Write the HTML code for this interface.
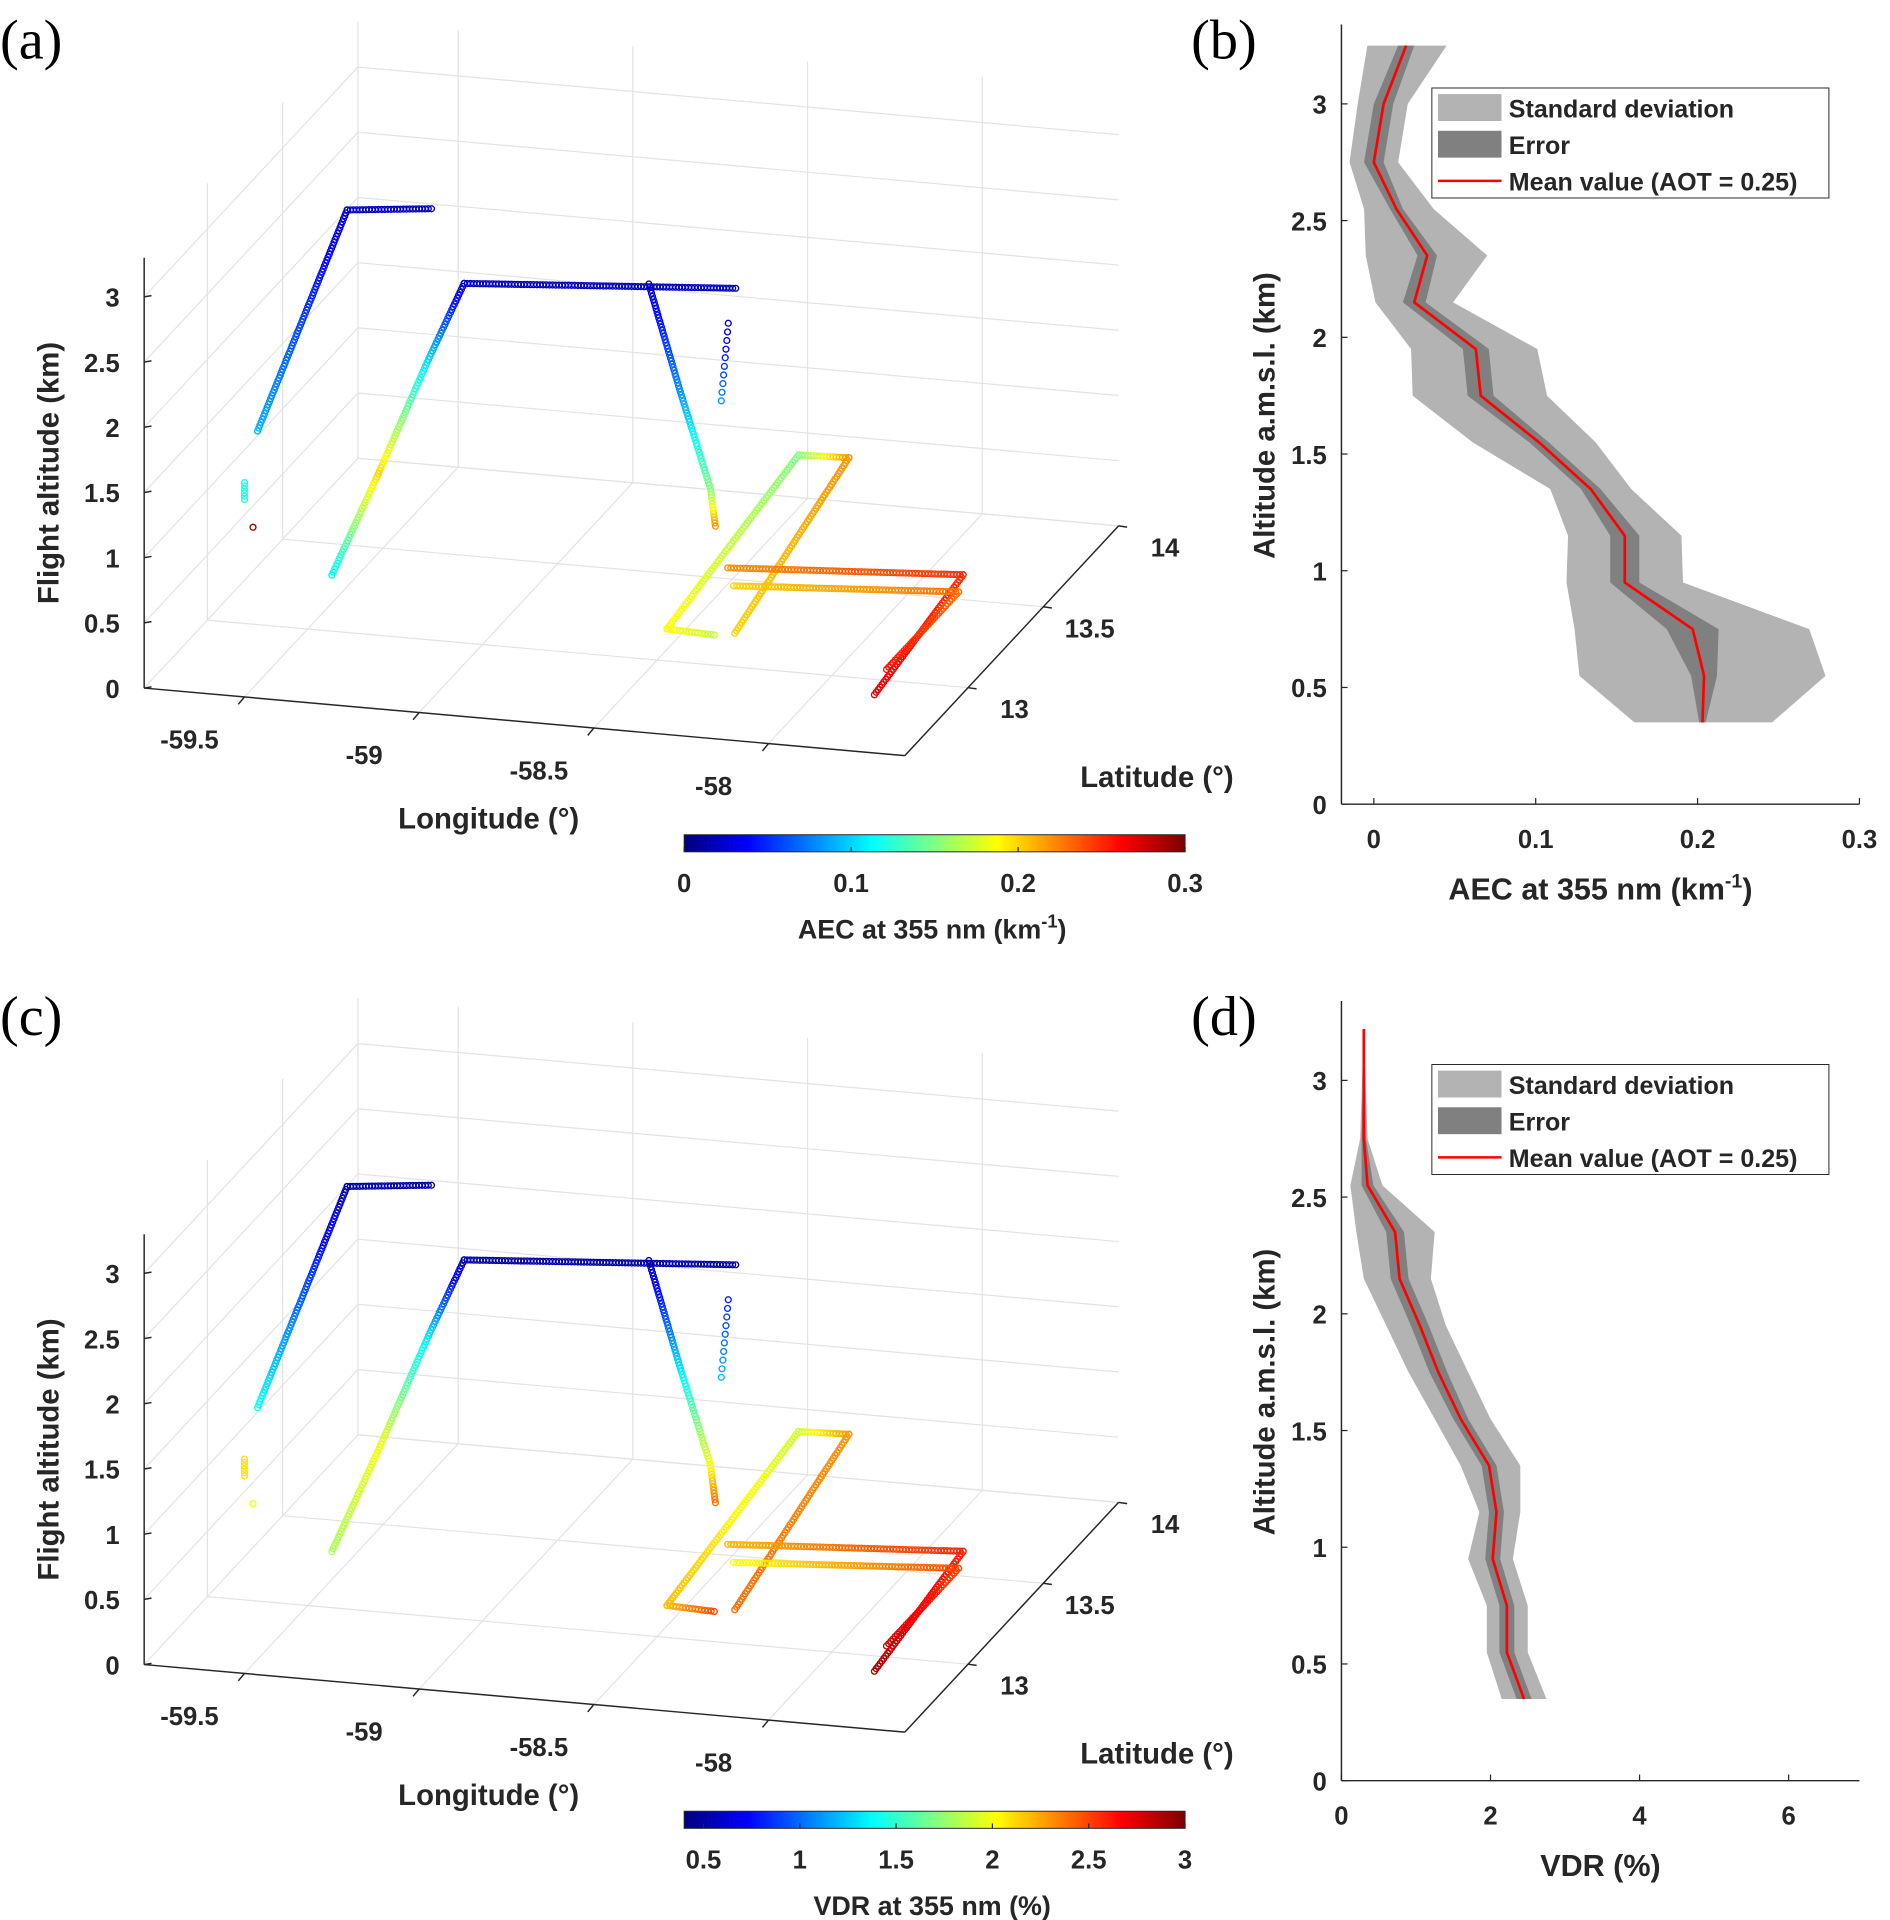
<!DOCTYPE html>
<html><head><meta charset="utf-8">
<style>
html,body{margin:0;padding:0;background:#fff;}
svg{display:block;}
text{font-family:"Liberation Sans",sans-serif;font-weight:bold;fill:#262626;}
.pl{font-family:"Liberation Serif",serif;font-weight:normal;fill:#000;font-size:46px;}
</style></head>
<body>
<svg id="fig" width="1890" height="1920" viewBox="0 0 1547 1571" preserveAspectRatio="none" xmlns="http://www.w3.org/2000/svg">
<rect width="1547" height="1571" fill="#fff"/>
<text class="pl" x="0" y="48">(a)</text>
<text class="pl" x="975" y="48">(b)</text>
<text class="pl" x="0" y="847">(c)</text>
<text class="pl" x="975" y="847">(d)</text>
</svg>
<script>
// ---------- data ----------
const altTicks3d=[0,0.5,1,1.5,2,2.5,3];
const lonTicks=[-59.5,-59,-58.5,-58];
const latTicks=[13,13.5,14];
// flight track waypoints [lon, lat, alt]
const track1=[[-59.18,13.08,3.2],[-59.40,13.03,3.2],[-59.51,12.69,1.9]];
const track1b=[[-59.53,12.65,1.55],[-59.53,12.65,1.42]];
const track1c=[[-59.51,12.66,1.2]];
const track2=[[-58.18,12.78,3.2],[-58.91,12.67,3.2],[-59.01,12.665,2.6],[-59.15,12.657,1.7],[-59.28,12.65,0.9]];
const track3=[[-58.42,12.76,3.2],[-58.36,12.83,2.3],[-58.30,12.89,1.5],[-58.29,12.90,1.2]];
const track4=[[-58.21,12.80,2.9],[-58.23,12.80,2.3]];
const track5=[[-58.25,12.80,0.5],[-58.39,12.81,0.5],[-58.47,13.87,0.5],[-58.33,13.88,0.5],[-58.20,12.82,0.5]];
const track6=[[-58.38,13.19,0.5],[-57.74,13.27,0.5],[-57.68,12.54,0.5]];
const track7=[[-58.32,13.09,0.5],[-57.71,13.17,0.5],[-57.71,12.69,0.5]];
const aec1=[0.02,0.02,0.09],aec1b=[0.12,0.12],aec1c=[0.29],aec2=[0.02,0.02,0.1,0.2,0.11],aec3=[0.02,0.08,0.15,0.22],aec4=[0.02,0.08],aec5=[0.17,0.19,0.15,0.22,0.2],aec6=[0.22,0.25,0.27],aec7=[0.2,0.23,0.26];
const vdr1=[0.5,0.5,1.4],vdr1b=[2.1,2.1],vdr1c=[2.0],vdr2=[0.5,0.5,1.3,2.0,1.8],vdr3=[0.5,1.3,2.0,2.4],vdr4=[0.8,1.2],vdr5=[2.5,2.2,1.9,2.3,2.4],vdr6=[2.2,2.6,2.9],vdr7=[2.0,2.5,2.8];
const aecCbTicks=[0,0.1,0.2,0.3];
const vdrCbTicks=[0.5,1,1.5,2,2.5,3];
// profile (b)
const bAlt=[3.25,3.0,2.75,2.55,2.35,2.15,1.95,1.75,1.55,1.35,1.15,0.95,0.75,0.55,0.35];
const bMean=[0.02,0.006,0.0,0.014,0.033,0.025,0.063,0.066,0.102,0.134,0.155,0.155,0.197,0.204,0.203];
const bStdLo=[-0.004,-0.010,-0.015,-0.006,-0.005,0.001,0.023,0.024,0.061,0.109,0.120,0.119,0.124,0.127,0.161];
const bStdHi=[0.045,0.021,0.015,0.037,0.070,0.049,0.101,0.107,0.137,0.159,0.190,0.191,0.269,0.279,0.246];
const bErr=[0.005,0.006,0.006,0.004,0.006,0.007,0.008,0.008,0.006,0.006,0.009,0.009,0.016,0.008,0.002];
const bXTicks=[0,0.1,0.2,0.3];
const yTicks2d=[0,0.5,1,1.5,2,2.5,3];
// profile (d)
const dAlt=[3.22,2.75,2.55,2.35,2.15,1.95,1.75,1.55,1.35,1.15,0.95,0.75,0.55,0.35];
const dMean=[0.3,0.3,0.35,0.72,0.78,1.05,1.3,1.6,1.98,2.08,2.03,2.22,2.22,2.45];
const dStdLo=[0.3,0.25,0.12,0.2,0.3,0.6,0.9,1.25,1.6,1.85,1.7,1.95,1.95,2.15];
const dStdHi=[0.3,0.35,0.55,1.25,1.2,1.4,1.7,2.0,2.4,2.4,2.3,2.5,2.5,2.75];
const dErr=[0,0.03,0.08,0.12,0.12,0.12,0.12,0.1,0.1,0.1,0.1,0.1,0.1,0.1];
const dXTicks=[0,2,4,6];

// ---------- helpers ----------
const NS='http://www.w3.org/2000/svg';
const svg=document.getElementById('fig');
function mk(tag,attrs,parent){const e=document.createElementNS(NS,tag);for(const k in attrs)e.setAttribute(k,attrs[k]);(parent||svg).appendChild(e);return e;}
function txt(x,y,s,size,anchor,parent){const t=mk('text',{x:x,y:y,'font-size':size,'text-anchor':anchor||'middle'},parent);t.textContent=s;return t;}
function jet(t){t=Math.max(0,Math.min(1,t));const c=v=>Math.round(255*Math.max(0,Math.min(1,v)));return 'rgb('+c(1.5-Math.abs(4*t-3))+','+c(1.5-Math.abs(4*t-2))+','+c(1.5-Math.abs(4*t-1))+')';}

const LONMIN=-59.787,LONMAX=-57.61,LATMIN=12.58,LATMAX=14.0,ALTMAX=3.35;
function proj(lon,lat,alt,oy){return [118+(lon-LONMIN)*286+(lat-LATMIN)*123.2, 563+oy+(lon-LONMIN)*25.4-(lat-LATMIN)*132.4-alt*106.7];}

function panel3d(oy,prefix,tracks,vals,vmin,vmax,cbTicks,cbTitle,isAec){
  const g=mk('g',{});
  
  
  const grid='#e3e3e3';
  const L=(p,q,col,w,name)=>{const l=mk('line',{x1:p[0],y1:p[1],x2:q[0],y2:q[1],stroke:col,'stroke-width':w},g);return l;};
  // back wall (lat max)
  lonTicks.forEach(lo=>L(proj(lo,LATMAX,0,oy),proj(lo,LATMAX,ALTMAX,oy),grid,1,'gridline-back'));
  altTicks3d.forEach(a=>L(proj(LONMIN,LATMAX,a,oy),proj(LONMAX,LATMAX,a,oy),grid,1,'gridline-back'));
  // left wall (lon min)
  latTicks.forEach(la=>L(proj(LONMIN,la,0,oy),proj(LONMIN,la,ALTMAX,oy),grid,1,'gridline-left'));
  altTicks3d.forEach(a=>L(proj(LONMIN,LATMIN,a,oy),proj(LONMIN,LATMAX,a,oy),grid,1,'gridline-left'));
  // floor
  lonTicks.forEach(lo=>L(proj(lo,LATMIN,0,oy),proj(lo,LATMAX,0,oy),grid,1,'gridline-floor'));
  latTicks.forEach(la=>L(proj(LONMIN,la,0,oy),proj(LONMAX,la,0,oy),grid,1,'gridline-floor'));
  // axes
  L(proj(LONMIN,LATMIN,0,oy),proj(LONMIN,LATMIN,3.3,oy),'#262626',1.2,'z-axis');
  L(proj(LONMIN,LATMIN,0,oy),proj(LONMAX,LATMIN,0,oy),'#262626',1.2,'longitude-axis');
  L(proj(LONMAX,LATMIN,0,oy),proj(LONMAX,LATMAX,0,oy),'#262626',1.2,'latitude-axis');
  altTicks3d.forEach(a=>{const p=proj(LONMIN,LATMIN,a,oy);L(p,[p[0]+6,p[1]-1],'#262626',1.2,'z-tick');const t=txt(p[0]-20,p[1]+8,String(a),21,'end',g);});
  lonTicks.forEach(lo=>{const p=proj(lo,LATMIN,0,oy);L(p,[p[0]-5,p[1]+6],'#262626',1.2,'lon-tick');const t=txt(p[0]-45,p[1]+42,String(lo),21,'middle',g);});
  latTicks.forEach(la=>{const p=proj(LONMAX,la,0,oy);L(p,[p[0]+7,p[1]+1],'#262626',1.2,'lat-tick');const t=txt(p[0]+38,p[1]+25,String(la),21,'middle',g);});
  let t=txt(0,0,'Flight altitude (km)',24,'middle',g);t.setAttribute('transform','translate(48,'+(387+oy)+') rotate(-90)');
  
  t=txt(400,678+oy,'Longitude (°)',24,'middle',g);
  
  t=txt(947,644+oy,'Latitude (°)',24,'middle',g);
  
  // tracks
  const tg=mk('g',{},g);
  
  
  tracks.forEach((tr,ti)=>{
    const vs=vals[ti];
    const pts=tr.map(p=>proj(p[0],p[1],p[2],oy));
    const drawM=(x,y,v)=>{const c=mk('circle',{cx:x.toFixed(1),cy:y.toFixed(1),r:2.4,fill:'none',stroke:jet((v-vmin)/(vmax-vmin)),'stroke-width':1.1},tg);};
    if(pts.length===1){drawM(pts[0][0],pts[0][1],vs[0]);return;}
    const sparse=(ti===5);
    for(let i=0;i<pts.length-1;i++){
      const a=pts[i],b=pts[i+1];const len=Math.hypot(b[0]-a[0],b[1]-a[1]);
      const n=Math.max(1,Math.round(len/(sparse?7:2.6)));
      for(let k=0;k<=n;k++){const f=k/n;drawM(a[0]+(b[0]-a[0])*f,a[1]+(b[1]-a[1])*f,vs[i]+(vs[i+1]-vs[i])*f);}
    }
  });
  // colorbar
  const cg=mk('g',{},g);
  
  
  const cx0=560,cx1=970,cy=683+oy;
  for(let i=0;i<205;i++){mk('rect',{x:cx0+i*2,y:cy,width:2.3,height:14,fill:jet(i/204)},cg);}
  mk('rect',{x:cx0,y:cy,width:cx1-cx0,height:14,fill:'none',stroke:'#262626','stroke-width':0.8},cg);
  cbTicks.forEach(v=>{const x=cx0+(v-vmin)/(vmax-vmin)*(cx1-cx0);mk('line',{x1:x,y1:cy+14,x2:x,y2:cy+10,stroke:'#262626'},cg);const t=txt(x,cy+47,String(v),21,'middle',cg);});
  t=txt(763,cy+85,'',22,'middle',cg);
  
  if(isAec){t.innerHTML='AEC at 355 nm (km<tspan dy="-9" font-size="15">-1</tspan><tspan dy="9">)</tspan>';}
  else{t.textContent=cbTitle;}
}

panel3d(0,'panel-a',[track1,track1b,track1c,track2,track3,track4,track5,track6,track7],[aec1,aec1b,aec1c,aec2,aec3,aec4,aec5,aec6,aec7],0,0.3,aecCbTicks,'AEC',true);
panel3d(799,'panel-c',[track1,track1b,track1c,track2,track3,track4,track5,track6,track7],[vdr1,vdr1b,vdr1c,vdr2,vdr3,vdr4,vdr5,vdr6,vdr7],0.4,3.0,vdrCbTicks,'VDR at 355 nm (%)',false);

function profile(oy,prefix,alt,mean,lo,hi,err,xmin,xmax,xTicks,title,isAec){
  const g=mk('g',{});
  
  
  const X0=1098,X1=1522,Y0=658+oy;
  const sx=v=>X0+(v-xmin)/(xmax-xmin)*(X1-X0);
  const sy=a=>Y0-a*191;
  const poly=(l,h)=>{let s=alt.map((a,i)=>sx(l[i]).toFixed(1)+','+sy(a).toFixed(1));for(let i=alt.length-1;i>=0;i--)s.push(sx(h[i]).toFixed(1)+','+sy(alt[i]).toFixed(1));return s.join(' ');};
  let p=mk('polygon',{points:poly(lo,hi),fill:'#b3b3b3'},g);
  
  p=mk('polygon',{points:poly(mean.map((m,i)=>m-err[i]),mean.map((m,i)=>m+err[i])),fill:'#808080'},g);
  
  p=mk('polyline',{points:alt.map((a,i)=>sx(mean[i]).toFixed(1)+','+sy(a).toFixed(1)).join(' '),fill:'none',stroke:'#ff0000','stroke-width':2.2},g);
  
  mk('line',{x1:X0,y1:Y0,x2:X1,y2:Y0,stroke:'#262626','stroke-width':1.2},g);
  mk('line',{x1:X0,y1:Y0,x2:X0,y2:20+oy,stroke:'#262626','stroke-width':1.2},g);
  yTicks2d.forEach(a=>{const y=sy(a);mk('line',{x1:X0,y1:y,x2:X0+5,y2:y,stroke:'#262626'},g);const t=txt(X0-12,y+8,String(a),21,'end',g);});
  xTicks.forEach(v=>{const x=sx(v);mk('line',{x1:x,y1:Y0,x2:x,y2:Y0-5,stroke:'#262626'},g);const t=txt(x,Y0+36,String(v),21,'middle',g);});
  let t=txt(0,0,'Altitude a.m.s.l. (km)',24,'middle',g);t.setAttribute('transform','translate(1043,'+(340+oy)+') rotate(-90)');
  
  t=txt(1310,Y0+78,'',25,'middle',g);
  
  if(isAec)t.innerHTML='AEC at 355 nm (km<tspan dy="-10" font-size="16">-1</tspan><tspan dy="10">)</tspan>';else t.textContent=title;
  // legend
  const lg=mk('g',{},g);
  
  
  const ly=72+oy;
  mk('rect',{x:1172,y:ly,width:325,height:90,fill:'#fff',stroke:'#262626','stroke-width':0.8},lg);
  mk('rect',{x:1177,y:ly+5,width:52,height:22,fill:'#b3b3b3'},lg);
  mk('rect',{x:1177,y:ly+35,width:52,height:22,fill:'#808080'},lg);
  mk('line',{x1:1177,y1:ly+76,x2:1229,y2:ly+76,stroke:'#ff0000','stroke-width':2},lg);
  ['Standard deviation','Error','Mean value (AOT = 0.25)'].forEach((s,i)=>{const e=txt(1235,ly+24+i*30,s,20.5,'start',lg);});
}
profile(0,'panel-b',bAlt,bMean,bStdLo,bStdHi,bErr,-0.02,0.3,bXTicks,'',true);
profile(799,'panel-d',dAlt,dMean,dStdLo,dStdHi,dErr,0,6.95,dXTicks,'VDR (%)',false);
</script>
</body></html>
